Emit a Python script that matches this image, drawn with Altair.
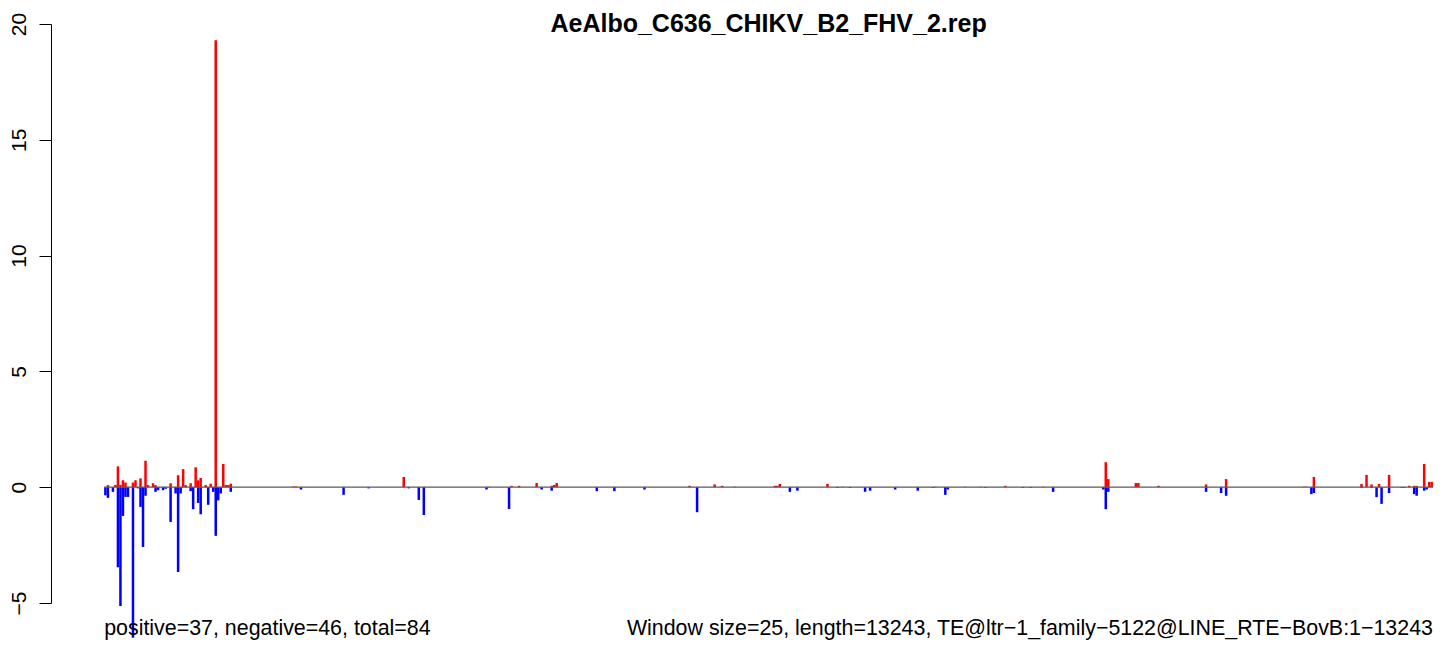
import altair as alt
import pandas as pd

# window index (25-bp windows) and values
pos_idx = [1, 4, 5, 6, 7, 8, 11, 12, 14, 16, 17, 19, 20, 26, 29, 31, 32, 34, 36, 37, 38, 40, 42, 44,
           47, 48, 49, 50, 75, 76, 119, 153, 162, 165, 172, 178, 179, 180, 233, 243, 246, 251,
           267, 268, 269, 288, 294, 331, 343, 349, 359, 374, 399, 400, 411, 412, 420, 439, 447,
           478, 479, 482, 501, 503, 505, 508, 512, 520, 522, 523, 526, 528, 529]
pos_val = [0.09, 0.1, 0.9, 0.1, 0.3, 0.2, 0.2, 0.3, 0.38, 1.14, 0.09, 0.17, 0.09, 0.17, 0.52, 0.78, 0.09,
           0.17, 0.86, 0.3, 0.4, 0.09, 0.15, 19.3, 1.0, 0.09, 0.09, 0.15, 0.03, 0.03, 0.44, 0.02,
           0.06, 0.06, 0.18, 0.06, 0.1, 0.18, 0.06, 0.12, 0.06, 0.02, 0.06, 0.06, 0.14, 0.14, 0.02,
           0.02, 0.02, 0.02, 0.06, 0.02, 1.08, 0.35, 0.18, 0.18, 0.06, 0.12, 0.35, 0.02, 0.02, 0.44,
           0.14, 0.53, 0.12, 0.14, 0.53, 0.06, 0.06, 0.06, 1.0, 0.23, 0.23]

neg_idx = [0, 1, 3, 5, 6, 7, 8, 9, 11, 13, 14, 15, 16, 20, 21, 23, 24, 26, 28, 29, 30, 34, 35, 37, 38,
           41, 43, 44, 45, 46, 50, 78, 95, 105, 121, 125, 127, 152, 161, 174, 178, 196, 203, 215,
           236, 273, 276, 292, 297, 303, 305, 315, 324, 330, 335, 336, 351, 366, 369, 378, 398,
           399, 400, 439, 445, 447, 481, 482, 501, 505, 507, 509, 512, 517, 518, 522, 523, 526, 527]
neg_val = [-0.35, -0.46, -0.2, -3.46, -5.13, -1.24, -0.42, -0.42, -6.5, -0.05, -0.85, -2.58, -0.37,
           -0.2, -0.13, -0.13, -0.07, -1.5, -0.27, -3.66, -0.27, -0.17, -0.95, -0.68, -1.17, -0.76,
           -0.2, -2.1, -0.57, -0.27, -0.2, -0.1, -0.33, -0.05, -0.05, -0.55, -1.2, -0.1, -0.94, -0.1,
           -0.15, -0.17, -0.17, -0.1, -1.08, -0.2, -0.15, -0.03, -0.03, -0.2, -0.15, -0.1, -0.15,
           -0.03, -0.33, -0.1, -0.03, -0.03, -0.03, -0.2, -0.1, -0.95, -0.2, -0.2, -0.25, -0.37,
           -0.3, -0.25, -0.03, -0.03, -0.43, -0.72, -0.25, -0.03, -0.03, -0.3, -0.37, -0.15, -0.1]

n_windows = 530
y_ticks = [-5, 0, 5, 10, 15, 20]
title_text = "AeAlbo_C636_CHIKV_B2_FHV_2.rep"
left_note = "positive=37, negative=46, total=84"
right_note = "Window size=25, length=13243, TE@ltr\u22121_family\u22125122@LINE_RTE\u2212BovB:1\u221213243"

FONT = "Liberation Sans"

bars = pd.DataFrame({
    "i": pos_idx + neg_idx,
    "v": pos_val + neg_val,
    "s": ["pos"] * len(pos_idx) + ["neg"] * len(neg_idx),
})

xscale = alt.Scale(domain=[-21.2, 534.4], nice=False, zero=False)
yscale = alt.Scale(domain=[-5, 20], nice=False, zero=False)

bar_layer = alt.Chart(bars).transform_calculate(i2="datum.i + 1").mark_bar(opacity=1).encode(
    x=alt.X("i:Q", scale=xscale, axis=None),
    x2="i2:Q",
    y=alt.Y("v:Q", scale=yscale,
            axis=alt.Axis(values=y_ticks, title=None, grid=False, domain=True, domainColor="black",
                          domainWidth=1, tickColor="black", tickSize=12, tickWidth=1,
                          labelAngle=270, labelAlign="center", labelBaseline="bottom",
                          labelPadding=10, labelFont=FONT, labelFontSize=21,
                          labelColor="black", labelOverlap=False)),
    y2=alt.datum(0),
    color=alt.Color("s:N", scale=alt.Scale(domain=["pos", "neg"], range=["#ff0000", "#0000ff"]),
                    legend=None),
)

zero = pd.DataFrame({"a": [0], "b": [n_windows], "y": [0]})
zero_layer = alt.Chart(zero).mark_rule(color="#5a5a5a", strokeWidth=1.2).encode(
    x=alt.X("a:Q", scale=xscale), x2="b:Q", y=alt.Y("y:Q", scale=yscale)
)

title_df = pd.DataFrame({"x": [265.0], "t": [title_text]})
title_layer = alt.Chart(title_df).mark_text(
    font=FONT, fontSize=25, fontWeight="bold", align="center", baseline="alphabetic", color="black"
).encode(x=alt.X("x:Q", scale=xscale), y=alt.value(8), text="t:N")

left_df = pd.DataFrame({"x": [0], "t": [left_note]})
left_layer = alt.Chart(left_df).mark_text(
    font=FONT, fontSize=21.4, align="left", baseline="alphabetic", color="black"
).encode(x=alt.X("x:Q", scale=xscale), y=alt.value(611), text="t:N")

right_df = pd.DataFrame({"x": [n_windows], "t": [right_note]})
right_layer = alt.Chart(right_df).mark_text(
    font=FONT, fontSize=21.4, align="right", baseline="alphabetic", color="black"
).encode(x=alt.X("x:Q", scale=xscale), y=alt.value(611), text="t:N")

chart = alt.layer(bar_layer, zero_layer, title_layer, left_layer, right_layer).properties(
    width=1393, height=579,
    padding={"left": 43, "top": 16, "right": 0, "bottom": 37},
    autosize=alt.AutoSizeParams(type="none"),
    background="white",
).configure_view(stroke=None)

chart.save("out.html", embed_options={"renderer": "svg", "actions": False})
